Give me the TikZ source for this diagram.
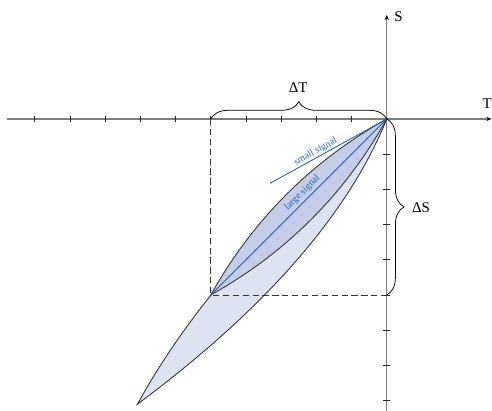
\documentclass[tikz,border=0pt]{standalone}
\usepackage{fontspec}
\setmainfont{Liberation Serif}
\usetikzlibrary{decorations.pathreplacing,arrows.meta}
\definecolor{sigblue}{RGB}{30,100,180}
\definecolor{outerfill}{RGB}{222,227,242}
\definecolor{innerfill}{RGB}{197,205,232}
\definecolor{axisgray}{RGB}{125,125,125}
\begin{document}
\begin{tikzpicture}[x=1cm,y=1cm,
  axisline/.style={draw=axisgray,line width=1pt,-{Stealth[length=4pt,width=3.5pt,color=black]}},
  tickmark/.style={draw=black!85,line width=0.6pt},
  lens/.style={draw=black!80,line width=0.7pt},
  sigline/.style={draw=sigblue,line width=0.7pt},
  siglabel/.style={text=sigblue,font=\fontsize{8}{9}\selectfont,inner sep=0pt},
  guide/.style={draw=black!80,line width=0.6pt,dash pattern=on 5pt off 3pt},
  bracestyle/.style={draw=black,line width=0.6pt,decorate,decoration={brace,amplitude=14pt}},
  biglabel/.style={font=\fontsize{12}{14}\selectfont,inner sep=0pt}]
\useasboundingbox (-10.99,-8.27) rectangle (2.99,3.38);
\coordinate (O) at (0,0);
\coordinate (A) at (-5,-5);
\coordinate (B) at (-7.085,-8.105);
\coordinate (C) at (-5,0);
\coordinate (D) at (0,-5);
\coordinate (E) at (-3.32,-1.83);
\coordinate (xl) at (-10.8,0);
\coordinate (xr) at (2.97,0);
\coordinate (yb) at (0,-8.35);
\coordinate (yt) at (0,2.95);
% axes
\draw[axisline] (xl) -- (xr);
\draw[axisline] (yb) -- (yt);
\foreach \i in {1,...,10} \draw[tickmark] (-\i,-0.095) -- (-\i,0.095);
\foreach \i in {1,...,8} \draw[tickmark] (-0.095,-\i) -- (0.095,-\i);
% outer lens
\filldraw[lens,fill=outerfill] (O) .. controls (-3.24,-2.70) and (-5.602,-5.402) .. (B)
   .. controls (-3.455,-5.402) and (-1.093,-2.70) .. (O) -- cycle;
% inner lens
\filldraw[lens,fill=innerfill] (O) .. controls (-2.138,-1.195) and (-3.805,-2.862) .. (A)
   .. controls (-2.862,-3.805) and (-1.195,-2.138) .. (O) -- cycle;
% signal lines
\draw[sigline] (O) -- (A);
\draw[sigline] (O) -- (E);
\node[siglabel,rotate=45] (large) at (-2.4,-2.1) {large signal};
\node[siglabel,rotate=29] (small) at (-2.02,-0.93) {small signal};
% dashed guides
\draw[guide] (C) -- (A) -- (D);
% braces
\draw[bracestyle] (C) -- (O);
\draw[bracestyle] (O) -- (D);
\node[biglabel] (dT) at (-2.52,0.88) {ΔT};
\node[biglabel] (dS) at (0.97,-2.53) {ΔS};
\node[biglabel] (T) at (2.85,0.43) {T};
\node[biglabel] (S) at (0.33,2.9) {S};
\end{tikzpicture}
\end{document}
